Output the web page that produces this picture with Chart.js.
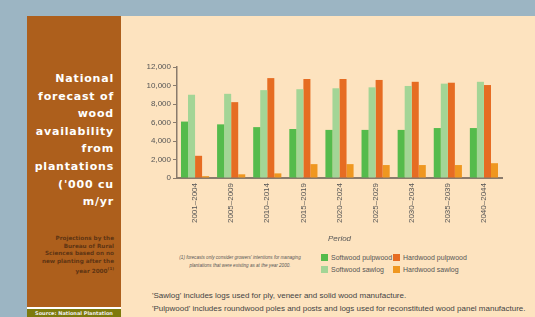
<!DOCTYPE html>
<html>
<head>
<meta charset="utf-8">
<script src="https://cdn.jsdelivr.net/npm/chart.js@4.4.0/dist/chart.umd.min.js"></script>
<style>
  body { margin: 0; width: 535px; height: 317px; background: #9cb5c3; position: relative; overflow: hidden; font-family: "Liberation Sans", Arial, sans-serif; }
  #side { position: absolute; left: 27px; top: 16px; width: 94px; height: 291px; background: #ad5f1c; }
  #title { position: absolute; left: 20px; top: 70px; width: 94px; text-align: right; color: #fff; font-family: "DejaVu Sans", sans-serif; font-weight: bold; font-size: 11px; line-height: 17.6px; letter-spacing: 0.8px; }
  #sub { position: absolute; left: 20px; top: 235px; width: 94px; text-align: right; color: #5e3413; font-family: "DejaVu Sans", sans-serif; font-weight: bold; font-size: 5.7px; line-height: 7.6px; }
  #sub sup { font-size: 4px; }
  #line { position: absolute; left: 27px; top: 307px; width: 94px; height: 2px; background: #fff; }
  #src { position: absolute; left: 27px; top: 309px; width: 94px; height: 8px; background: #7d7a0c; color: #eee; font-family: "DejaVu Sans", sans-serif; font-weight: bold; font-size: 5px; text-align: center; line-height: 9px; }
  #panel { position: absolute; left: 121px; top: 16px; width: 414px; height: 301px; background: #fde3bf; }
  #wrap { position: absolute; left: 122px; top: 16px; width: 413px; height: 234px; }
  #foot { position: absolute; left: 170px; top: 254px; width: 140px; text-align: center; font-style: italic; font-size: 4.6px; line-height: 8px; color: #555; }
  #legend { position: absolute; left: 321px; top: 254px; width: 200px; font-size: 7px; color: #555; }
  .item { position: absolute; white-space: nowrap; }
  .box { display: inline-block; width: 7px; height: 7px; vertical-align: -1px; margin-right: 3px; }
  #notes { position: absolute; left: 152px; top: 290px; font-size: 8px; line-height: 12.5px; color: #444; white-space: nowrap; }
</style>
</head>
<body>
<div id="panel"></div>
<div id="side"></div>
<div id="title">National<br>forecast of<br>wood<br>availability<br>from<br>plantations<br>('000 cu<br>m/yr</div>
<div id="sub">Projections by the<br>Bureau of Rural<br>Sciences based on no<br>new planting after the<br>year 2000<sup>(1)</sup></div>
<div id="line"></div>
<div id="src">Source: National Plantation</div>
<div id="wrap"><canvas id="graph"></canvas></div>
<div id="foot">(1) forecasts only consider growers' intentions for managing plantations that were existing as at the year 2000.</div>
<div id="legend"></div>
<div id="notes">'Sawlog' includes logs used for ply, veneer and solid wood manufacture.<br>'Pulpwood' includes roundwood poles and posts and logs used for reconstituted wood panel manufacture.</div>
<script>
// periodes et valeurs ('000 m3/an)
var periodes = ["2001–2004", "2005–2009", "2010–2014", "2015–2019", "2020–2024", "2025–2029", "2030–2034", "2035–2039", "2040–2044"];
var softwoodPulpwood = [6100, 5800, 5500, 5300, 5200, 5200, 5200, 5400, 5400];
var softwoodSawlog = [9000, 9100, 9500, 9600, 9700, 9800, 9950, 10200, 10400];
var hardwoodPulpwood = [2400, 8200, 10800, 10700, 10700, 10600, 10400, 10300, 10050];
var hardwoodSawlog = [200, 400, 500, 1500, 1500, 1400, 1400, 1400, 1600];
var yTicks = [0, 2000, 4000, 6000, 8000, 10000, 12000];

var series = [
  { label: "Softwood pulpwood", data: softwoodPulpwood, color: "#55bb4c" },
  { label: "Softwood sawlog", data: softwoodSawlog, color: "#a3d596" },
  { label: "Hardwood pulpwood", data: hardwoodPulpwood, color: "#e66c22" },
  { label: "Hardwood sawlog", data: hardwoodSawlog, color: "#ef9720" },
];

var axisColor = "#8a7b6c";
var ctx = document.getElementById("graph");
var myChart = new Chart(ctx, {
  type: "bar",
  data: {
    labels: periodes,
    datasets: series.map(function (s) {
      return { label: s.label, data: s.data, backgroundColor: s.color, borderWidth: 0, barPercentage: 1, categoryPercentage: 0.78 };
    }),
  },
  options: {
    responsive: true,
    maintainAspectRatio: false,
    animation: false,
    layout: { padding: { top: 51, right: 33, left: 0, bottom: 6 } },
    plugins: { legend: { display: false }, tooltip: { enabled: false } },
    scales: {
      x: {
        afterFit: function (axis) { axis.height = 66; },
        grid: { display: false, drawTicks: false },
        border: { display: true, color: axisColor, width: 2 },
        ticks: { minRotation: 90, maxRotation: 90, autoSkip: false, padding: 5, color: "#555", font: { family: "Liberation Sans", size: 8 } },
        title: { display: true, text: "Period", color: "#555", padding: { top: 8, bottom: 0 }, font: { family: "Liberation Sans", size: 8, style: "italic" } },
      },
      y: {
        min: 0,
        max: 12000,
        afterFit: function (axis) { axis.width = 55; },
        afterBuildTicks: function (axis) { axis.ticks = yTicks.map(function (v) { return { value: v }; }); },
        grid: { drawOnChartArea: false, drawTicks: true, tickLength: 4, color: axisColor },
        border: { display: true, color: axisColor, width: 1.5 },
        ticks: {
          padding: 2,
          color: "#555",
          font: { family: "Liberation Sans", size: 8 },
          callback: function (v) { return v.toLocaleString("en-US"); },
        },
      },
    },
  },
});

// legende en html (2 colonnes)
var legend = document.getElementById("legend");
var pos = [[0, 0], [0, 12], [72, 0], [72, 12]];
series.forEach(function (s, k) {
  var d = document.createElement("div");
  d.className = "item";
  d.style.left = pos[k][0] + "px";
  d.style.top = pos[k][1] + "px";
  d.innerHTML = '<span class="box" style="background:' + s.color + '"></span>' + s.label;
  legend.appendChild(d);
});
</script>
</body>
</html>
